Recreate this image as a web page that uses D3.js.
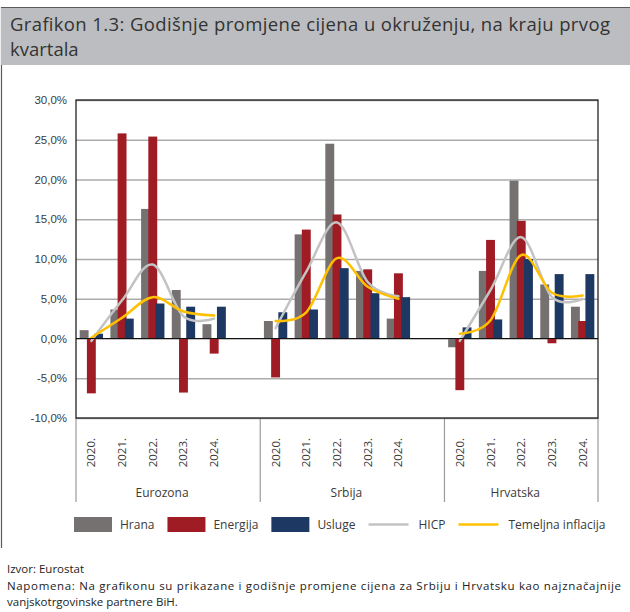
<!DOCTYPE html>
<html>
<head>
<meta charset="utf-8">
<script src="https://cdn.jsdelivr.net/npm/d3@7"></script>
<style>
  body { margin: 0; background: #fff; }
  svg { display: block; font-family: 'Open Sans', sans-serif; }
  .tick text { fill: #3a3a3a; font-size: 11.5px; }
</style>
</head>
<body>
<svg id="chart" width="630" height="612"></svg>
<script>
// values (percent)
const groups = ['Eurozona', 'Srbija', 'Hrvatska'];
const years = ['2020.', '2021.', '2022.', '2023.', '2024.'];
const seriesBars = ['Hrana', 'Energija', 'Usluge'];
const seriesLines = ['HICP', 'Temeljna inflacija'];

const hrana = [
  [1.05, 3.65, 16.3, 6.1, 1.8],
  [2.2, 13.1, 24.5, 8.5, 2.5],
  [-1.1, 8.5, 19.85, 6.8, 4.0]
];
const energija = [
  [-6.9, 25.8, 25.4, -6.8, -1.9],
  [-4.9, 13.7, 15.6, 8.7, 8.2],
  [-6.5, 12.4, 14.8, -0.6, 2.2]
];
const usluge = [
  [0.6, 2.5, 4.4, 4.0, 4.0],
  [3.3, 3.65, 8.85, 5.7, 5.2],
  [1.4, 2.4, 10.0, 8.1, 8.1]
];
const hicp = [
  [-0.3, 4.8, 9.3, 2.8, 2.5],
  [1.3, 8.4, 14.6, 7.1, 5.3],
  [-0.3, 6.1, 12.75, 5.2, 4.95]
];
const temeljna = [
  [0.1, 2.6, 5.2, 3.4, 2.9],
  [2.2, 3.3, 10.1, 6.5, 5.0],
  [0.6, 2.3, 10.5, 5.75, 5.4]
];
const yTicks = [-10, -5, 0, 5, 10, 15, 20, 25, 30];

const colors = {
  Hrana: '#767171',
  Energija: '#a01c25',
  Usluge: '#1d3863',
  HICP: '#c3c3c3',
  'Temeljna inflacija': '#ffc000'
};

const svg = d3.select('#chart');
const margin = { top: 100, right: 32, bottom: 194, left: 76 };
const width = 630 - margin.left - margin.right;
const height = 612 - margin.top - margin.bottom;
const scales = {};

// 17 slots: 5 years per group and an empty slot between groups
const slots = [];
groups.forEach((g, gi) => {
  years.forEach(y => slots.push(`${g}|${y}`));
  if (gi < groups.length - 1) slots.push(`gap${gi}`);
});

function setupScales() {
  const x = d3.scaleBand().domain(slots).range([margin.left, margin.left + width]);
  const y = d3.scaleLinear().domain([-10, 30]).range([margin.top + height, margin.top]);
  const bw = x.bandwidth();
  const inner = d3.scalePoint().domain(seriesBars).range([-bw * 0.235, bw * 0.235]);
  scales.count = { x, y, inner, barWidth: bw * 0.29 };
}

function drawFrame() {
  svg.append('line')
    .attr('x1', 1.5).attr('x2', 1.5)
    .attr('y1', 7).attr('y2', 548)
    .attr('stroke', '#5a5a5a').attr('stroke-width', 1.2);

  svg.append('rect')
    .attr('x', 1).attr('y', 7)
    .attr('width', 629).attr('height', 58)
    .attr('fill', '#bcbdc0');

  svg.append('line')
    .attr('x1', 1).attr('x2', 630)
    .attr('y1', 7.5).attr('y2', 7.5)
    .attr('stroke', '#5a5a5a').attr('stroke-width', 1);

  // two separate lines so their boxes do not collide
  svg.append('text')
    .attr('x', 10).attr('y', 30.5)
    .attr('fill', '#333')
    .attr('textLength', 600)
    .attr('lengthAdjust', 'spacing')
    .style('font-size', '18.5px')
    .text('Grafikon 1.3: Godišnje promjene cijena u okruženju, na kraju prvog');

  svg.append('text')
    .attr('x', 10).attr('y', 56)
    .attr('fill', '#333')
    .style('font-size', '18.5px')
    .text('kvartala');
}

function drawAxes() {
  const { x, y } = scales.count;
  const g = svg.append('g').attr('class', 'axis axis-y')
    .attr('transform', `translate(${margin.left},0)`);

  const axisY = d3.axisLeft(y)
    .tickValues(yTicks)
    .tickFormat(d => d.toFixed(1).replace('.', ',') + '%')
    .tickSize(-width)
    .tickPadding(9);

  g.call(axisY);
  g.select('.domain').remove();
  g.selectAll('.tick line')
    .attr('stroke', '#ababab')
    .attr('stroke-width', 1.3);

  // year labels
  const xg = svg.append('g').attr('class', 'axis axis-x');
  groups.forEach(gr => {
    years.forEach(yr => {
      const cx = x(`${gr}|${yr}`) + x.bandwidth() / 2 + 4;
      xg.append('text')
        .attr('transform', `translate(${cx},438) rotate(-90)`)
        .attr('text-anchor', 'end')
        .attr('fill', '#3a3a3a')
        .style('font-size', '11.5px')
        .text(yr);
    });
  });

  // group separators and names
  const bounds = [margin.left];
  groups.forEach((gr, gi) => {
    const last = gi < groups.length - 1
      ? x(`gap${gi}`) + x.bandwidth()
      : x(`${gr}|${years[years.length - 1]}`) + x.bandwidth();
    bounds.push(last);
  });

  xg.selectAll('.sep')
    .data(bounds)
    .join('line')
    .attr('class', 'sep')
    .attr('x1', d => d).attr('x2', d => d)
    .attr('y1', margin.top + height).attr('y2', 502)
    .attr('stroke', '#9a9a9a')
    .attr('stroke-width', 1.2);

  xg.selectAll('.group-name')
    .data(groups)
    .join('text')
    .attr('class', 'group-name')
    .attr('x', (d, i) => (bounds[i] + bounds[i + 1]) / 2 - 6)
    .attr('y', 497)
    .attr('text-anchor', 'middle')
    .attr('fill', '#3a3a3a')
    .style('font-size', '12px')
    .text(d => d);
}

function drawBars() {
  const { x, y, inner, barWidth } = scales.count;
  const table = { Hrana: hrana, Energija: energija, Usluge: usluge };
  const rows = [];
  seriesBars.forEach(s => {
    groups.forEach((gr, gi) => {
      years.forEach((yr, yi) => {
        rows.push({ series: s, key: `${gr}|${yr}`, value: table[s][gi][yi] });
      });
    });
  });

  svg.append('g').attr('class', 'bars')
    .selectAll('rect')
    .data(rows)
    .join('rect')
    .attr('x', d => x(d.key) + x.bandwidth() / 2 + inner(d.series) - barWidth / 2)
    .attr('y', d => y(Math.max(0, d.value)))
    .attr('width', barWidth)
    .attr('height', d => Math.abs(y(d.value) - y(0)))
    .attr('fill', d => colors[d.series]);
}

function drawLines() {
  const { x, y } = scales.count;
  const table = { HICP: hicp, 'Temeljna inflacija': temeljna };
  const line = d3.line()
    .x(d => x(d.key) + x.bandwidth() / 2)
    .y(d => y(d.value))
    .curve(d3.curveCardinal.tension(0));

  const g = svg.append('g').attr('class', 'lines');
  seriesLines.forEach(s => {
    groups.forEach((gr, gi) => {
      const pts = years.map((yr, yi) => ({ key: `${gr}|${yr}`, value: table[s][gi][yi] }));
      g.append('path')
        .attr('d', line(pts))
        .attr('fill', 'none')
        .attr('stroke', colors[s])
        .attr('stroke-width', 2.5)
        .attr('stroke-linecap', 'round');
    });
  });
}

function drawBorder() {
  const { y } = scales.count;
  svg.append('line')
    .attr('x1', margin.left).attr('x2', margin.left + width)
    .attr('y1', y(0)).attr('y2', y(0))
    .attr('stroke', '#111').attr('stroke-width', 1.2);

  svg.append('rect')
    .attr('x', margin.left).attr('y', margin.top)
    .attr('width', width).attr('height', height)
    .attr('fill', 'none')
    .attr('stroke', '#111')
    .attr('stroke-width', 1.2);
}

function drawLegend() {
  const g = svg.append('g').attr('class', 'legend');
  const items = seriesBars.map(s => ({ name: s, type: 'bar' }))
    .concat(seriesLines.map(s => ({ name: s, type: 'line' })));
  let cx = 74;
  items.forEach(it => {
    if (it.type === 'bar') {
      g.append('rect')
        .attr('x', cx).attr('y', 517)
        .attr('width', 38).attr('height', 15)
        .attr('fill', colors[it.name]);
    } else {
      g.append('line')
        .attr('x1', cx).attr('x2', cx + 40)
        .attr('y1', 524.5).attr('y2', 524.5)
        .attr('stroke', colors[it.name])
        .attr('stroke-width', 2.6);
    }
    const t = g.append('text')
      .attr('x', cx + (it.type === 'bar' ? 46 : 50))
      .attr('y', 529)
      .attr('fill', '#3a3a3a')
      .style('font-size', '12px')
      .text(it.name);
    cx += (it.type === 'bar' ? 46 : 50) + t.node().getComputedTextLength() + 13;
  });
}

function drawNotes() {
  const g = svg.append('g').attr('class', 'notes')
    .attr('fill', '#222')
    .style('font-size', '11.5px');
  g.append('text').attr('x', 7).attr('y', 573).text('Izvor: Eurostat');
  g.append('text').attr('x', 7).attr('y', 590)
    .attr('textLength', 614)
    .attr('lengthAdjust', 'spacing')
    .text('Napomena: Na grafikonu su prikazane i godišnje promjene cijena za Srbiju i Hrvatsku kao najznačajnije');
  g.append('text').attr('x', 7).attr('y', 606)
    .text('vanjskotrgovinske partnere BiH.');
}

setupScales();
drawFrame();
drawAxes();
drawBars();
drawLines();
drawBorder();
drawLegend();
drawNotes();
</script>
</body>
</html>
